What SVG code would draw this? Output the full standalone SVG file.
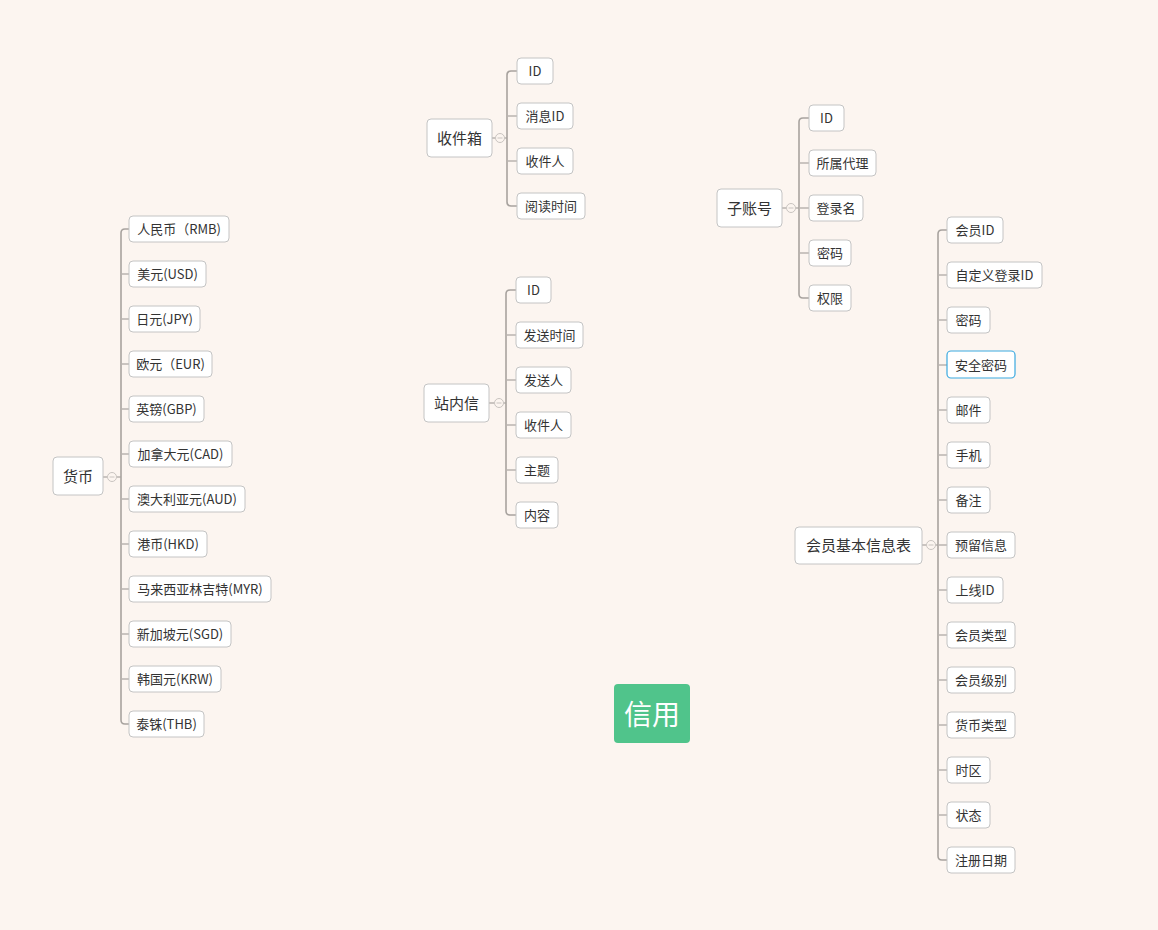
<svg xmlns="http://www.w3.org/2000/svg" width="1158" height="930" viewBox="0 0 1158 930">
<style>
.n rect{fill:#ffffff;stroke:#c4c4c4;stroke-width:1}
.n text{font-family:"Noto Sans CJK SC","Noto Sans",sans-serif;fill:#333333;text-anchor:middle;dominant-baseline:central;transform:translateY(-1px)}
.c text{font-size:13px}
.m text{font-size:15px}
.sel rect{stroke:#3aa9e0;stroke-width:1.2}
.trunk{fill:none;stroke:#a8a39f;stroke-width:1.6}
.stub{fill:none;stroke:#b9b4b0;stroke-width:1.4}
.tog{fill:#fcf5f0;stroke:#c9c4c0;stroke-width:1}
.togm{stroke:#c9c4c0;stroke-width:1}
</style>
<rect width="1158" height="930" fill="#fcf5f0"/>
<g id="connectors">
<path class="stub" d="M103 477H107.5M116.5 477H121"/>
<circle class="tog" cx="112" cy="477" r="4.5"/><path class="togm" d="M109.5 477H114.5"/>
<path class="trunk" d="M129 229H125Q121 229 121 233V720Q121 724 125 724H129"/>
<path class="stub" d="M121 274H129M121 319H129M121 364H129M121 409H129M121 454H129M121 499H129M121 544H129M121 589H129M121 634H129M121 679H129"/>
<path class="stub" d="M492 138H495.5M504.5 138H507"/>
<circle class="tog" cx="500" cy="138" r="4.5"/><path class="togm" d="M497.5 138H502.5"/>
<path class="trunk" d="M517 71H511Q507 71 507 75V202Q507 206 511 206H517"/>
<path class="stub" d="M507 116H517M507 161H517"/>
<path class="stub" d="M489 403H494.5M503.5 403H506"/>
<circle class="tog" cx="499" cy="403" r="4.5"/><path class="togm" d="M496.5 403H501.5"/>
<path class="trunk" d="M516 290H510Q506 290 506 294V511Q506 515 510 515H516"/>
<path class="stub" d="M506 335H516M506 380H516M506 425H516M506 470H516"/>
<path class="stub" d="M782 208H786.5M795.5 208H799"/>
<circle class="tog" cx="791" cy="208" r="4.5"/><path class="togm" d="M788.5 208H793.5"/>
<path class="trunk" d="M809 118H803Q799 118 799 122V294Q799 298 803 298H809"/>
<path class="stub" d="M799 163H809M799 208H809M799 253H809"/>
<path class="stub" d="M922 545H926.5M935.5 545H938"/>
<circle class="tog" cx="931" cy="545" r="4.5"/><path class="togm" d="M928.5 545H933.5"/>
<path class="trunk" d="M947 230H942Q938 230 938 234V856Q938 860 942 860H947"/>
<path class="stub" d="M938 275H947M938 320H947M938 365H947M938 410H947M938 455H947M938 500H947M938 545H947M938 590H947M938 635H947M938 680H947M938 725H947M938 770H947M938 815H947"/>
</g>

<g id="root">
<rect x="614" y="684" width="76" height="59" rx="4" fill="#50c48b"/>
<text x="652" y="713" font-family="'Noto Sans CJK SC',sans-serif" font-size="28" fill="#ffffff" text-anchor="middle" dominant-baseline="central">信用</text>
</g>

<g id="huobi" class="n m"><rect x="53" y="457" width="50" height="38" rx="4"/><text x="78" y="476">货币</text></g>
<g id="hb1" class="n c"><rect x="129" y="216" width="100" height="26" rx="4"/><text x="179" y="229">人民币（RMB)</text></g>
<g id="hb2" class="n c"><rect x="129" y="261" width="77" height="26" rx="4"/><text x="167.5" y="274">美元(USD)</text></g>
<g id="hb3" class="n c"><rect x="129" y="306" width="71" height="26" rx="4"/><text x="164.5" y="319">日元(JPY)</text></g>
<g id="hb4" class="n c"><rect x="129" y="351" width="83" height="26" rx="4"/><text x="170.5" y="364">欧元（EUR)</text></g>
<g id="hb5" class="n c"><rect x="129" y="396" width="75" height="26" rx="4"/><text x="166.5" y="409">英镑(GBP)</text></g>
<g id="hb6" class="n c"><rect x="129" y="441" width="103" height="26" rx="4"/><text x="180.5" y="454">加拿大元(CAD)</text></g>
<g id="hb7" class="n c"><rect x="129" y="486" width="116" height="26" rx="4"/><text x="187" y="499">澳大利亚元(AUD)</text></g>
<g id="hb8" class="n c"><rect x="129" y="531" width="78" height="26" rx="4"/><text x="168" y="544">港币(HKD)</text></g>
<g id="hb9" class="n c"><rect x="129" y="576" width="142" height="26" rx="4"/><text x="200" y="589">马来西亚林吉特(MYR)</text></g>
<g id="hb10" class="n c"><rect x="129" y="621" width="102" height="26" rx="4"/><text x="180" y="634">新加坡元(SGD)</text></g>
<g id="hb11" class="n c"><rect x="129" y="666" width="92" height="26" rx="4"/><text x="175" y="679">韩国元(KRW)</text></g>
<g id="hb12" class="n c"><rect x="129" y="711" width="75" height="26" rx="4"/><text x="166.5" y="724">泰铢(THB)</text></g>

<g id="shoujianxiang" class="n m"><rect x="427" y="119" width="65" height="38" rx="4"/><text x="459.5" y="138">收件箱</text></g>
<g id="sj1" class="n c"><rect x="517" y="58" width="36" height="26" rx="4"/><text x="535" y="71">ID</text></g>
<g id="sj2" class="n c"><rect x="517" y="103" width="56" height="26" rx="4"/><text x="545" y="116">消息ID</text></g>
<g id="sj3" class="n c"><rect x="517" y="148" width="56" height="26" rx="4"/><text x="545" y="161">收件人</text></g>
<g id="sj4" class="n c"><rect x="517" y="193" width="68" height="26" rx="4"/><text x="551" y="206">阅读时间</text></g>

<g id="zhanneixin" class="n m"><rect x="424" y="384" width="65" height="38" rx="4"/><text x="456.5" y="403">站内信</text></g>
<g id="zn1" class="n c"><rect x="516" y="277" width="35" height="26" rx="4"/><text x="533.5" y="290">ID</text></g>
<g id="zn2" class="n c"><rect x="516" y="322" width="67" height="26" rx="4"/><text x="549.5" y="335">发送时间</text></g>
<g id="zn3" class="n c"><rect x="516" y="367" width="55" height="26" rx="4"/><text x="543.5" y="380">发送人</text></g>
<g id="zn4" class="n c"><rect x="516" y="412" width="55" height="26" rx="4"/><text x="543.5" y="425">收件人</text></g>
<g id="zn5" class="n c"><rect x="516" y="457" width="42" height="26" rx="4"/><text x="537" y="470">主题</text></g>
<g id="zn6" class="n c"><rect x="516" y="502" width="42" height="26" rx="4"/><text x="537" y="515">内容</text></g>

<g id="zizhanghao" class="n m"><rect x="717" y="189" width="65" height="38" rx="4"/><text x="749.5" y="208">子账号</text></g>
<g id="zz1" class="n c"><rect x="809" y="105" width="35" height="26" rx="4"/><text x="826.5" y="118">ID</text></g>
<g id="zz2" class="n c"><rect x="809" y="150" width="67" height="26" rx="4"/><text x="842.5" y="163">所属代理</text></g>
<g id="zz3" class="n c"><rect x="809" y="195" width="54" height="26" rx="4"/><text x="836" y="208">登录名</text></g>
<g id="zz4" class="n c"><rect x="809" y="240" width="42" height="26" rx="4"/><text x="830" y="253">密码</text></g>
<g id="zz5" class="n c"><rect x="809" y="285" width="42" height="26" rx="4"/><text x="830" y="298">权限</text></g>

<g id="huiyuan" class="n m"><rect x="795" y="527" width="127" height="37" rx="4"/><text x="858.5" y="545">会员基本信息表</text></g>
<g id="hy1" class="n c"><rect x="947" y="217" width="56" height="26" rx="4"/><text x="975" y="230">会员ID</text></g>
<g id="hy2" class="n c"><rect x="947" y="262" width="95" height="26" rx="4"/><text x="994.5" y="275">自定义登录ID</text></g>
<g id="hy3" class="n c"><rect x="947" y="307" width="43" height="26" rx="4"/><text x="968.5" y="320">密码</text></g>
<g id="hy4" class="n c sel"><rect x="947" y="351" width="68" height="27" rx="4"/><text x="981" y="365">安全密码</text></g>
<g id="hy5" class="n c"><rect x="947" y="397" width="43" height="26" rx="4"/><text x="968.5" y="410">邮件</text></g>
<g id="hy6" class="n c"><rect x="947" y="442" width="43" height="26" rx="4"/><text x="968.5" y="455">手机</text></g>
<g id="hy7" class="n c"><rect x="947" y="487" width="43" height="26" rx="4"/><text x="968.5" y="500">备注</text></g>
<g id="hy8" class="n c"><rect x="947" y="532" width="68" height="26" rx="4"/><text x="981" y="545">预留信息</text></g>
<g id="hy9" class="n c"><rect x="947" y="577" width="56" height="26" rx="4"/><text x="975" y="590">上线ID</text></g>
<g id="hy10" class="n c"><rect x="947" y="622" width="68" height="26" rx="4"/><text x="981" y="635">会员类型</text></g>
<g id="hy11" class="n c"><rect x="947" y="667" width="68" height="26" rx="4"/><text x="981" y="680">会员级别</text></g>
<g id="hy12" class="n c"><rect x="947" y="712" width="68" height="26" rx="4"/><text x="981" y="725">货币类型</text></g>
<g id="hy13" class="n c"><rect x="947" y="757" width="43" height="26" rx="4"/><text x="968.5" y="770">时区</text></g>
<g id="hy14" class="n c"><rect x="947" y="802" width="43" height="26" rx="4"/><text x="968.5" y="815">状态</text></g>
<g id="hy15" class="n c"><rect x="947" y="847" width="68" height="26" rx="4"/><text x="981" y="860">注册日期</text></g>
</svg>
